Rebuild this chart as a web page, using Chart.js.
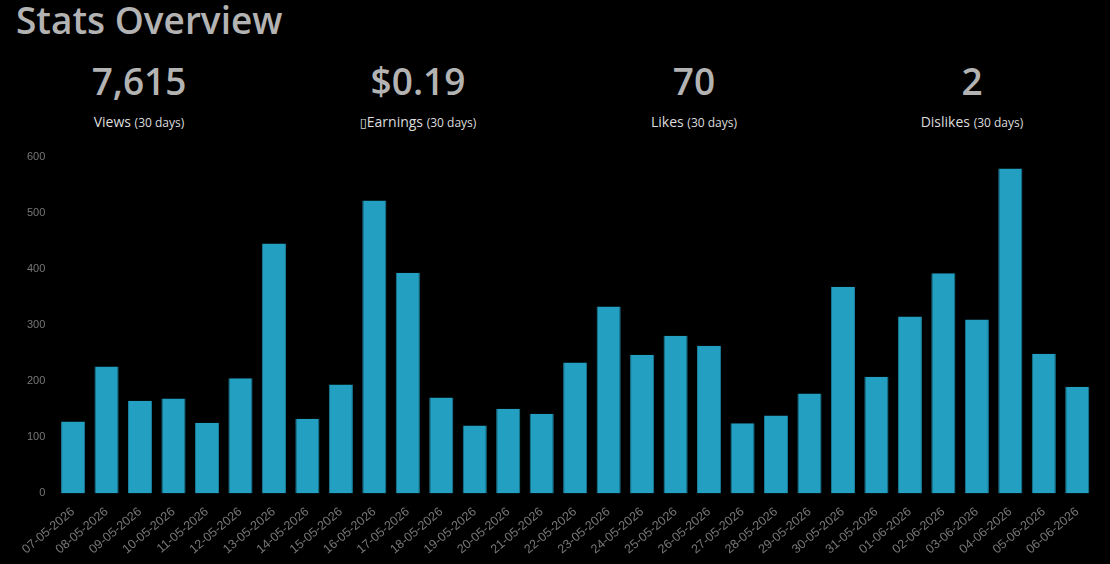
<!DOCTYPE html>
<html>
<head>
<meta charset="utf-8">
<script src="https://cdn.jsdelivr.net/npm/chart.js@4"></script>
<style>
    body { margin: 0; background: #000; width: 1110px; height: 564px; overflow: hidden; font-family: "Open Sans", sans-serif; color: #b3b3b3; }
    h1 { position: absolute; left: 16px; top: -6px; margin: 0; font-size: 37px; font-weight: 600; color: #b3b3b3; }
    .stat { position: absolute; top: 56px; width: 260px; text-align: center; }
    .stat .num { font-size: 37px; font-weight: 600; line-height: 50px; }
    .stat .lbl { font-size: 14px; color: #ddd; margin-top: 6px; }
    .stat .lbl small { font-size: 12px; }
    .tofu { font-family: "DejaVu Sans"; font-size: 13px; }
    #wrap { position: absolute; left: 0; top: 147px; width: 1110px; height: 417px; }
</style>
</head>
<body>
<h1>Stats Overview</h1>
<div class="stat" style="left:9px"><div class="num">7,615</div><div class="lbl">Views <small>(30 days)</small></div></div>
<div class="stat" style="left:288px"><div class="num">$0.19</div><div class="lbl"><span class="tofu">&#x25AF;</span>Earnings <small>(30 days)</small></div></div>
<div class="stat" style="left:564px"><div class="num">70</div><div class="lbl">Likes <small>(30 days)</small></div></div>
<div class="stat" style="left:842px"><div class="num">2</div><div class="lbl">Dislikes <small>(30 days)</small></div></div>
<div id="wrap"><canvas id="chart"></canvas></div>
<script>
// データ
const dates = [
    '07-05-2026', '08-05-2026', '09-05-2026', '10-05-2026', '11-05-2026', '12-05-2026',
    '13-05-2026', '14-05-2026', '15-05-2026', '16-05-2026', '17-05-2026', '18-05-2026',
    '19-05-2026', '20-05-2026', '21-05-2026', '22-05-2026', '23-05-2026', '24-05-2026',
    '25-05-2026', '26-05-2026', '27-05-2026', '28-05-2026', '29-05-2026', '30-05-2026',
    '31-05-2026', '01-06-2026', '02-06-2026', '03-06-2026', '04-06-2026', '05-06-2026',
    '06-06-2026'
];
const views = [
    128, 226, 165, 169, 126, 205, 445, 133, 194, 522, 393, 171, 121, 151, 142, 233,
    333, 247, 281, 263, 125, 139, 178, 368, 208, 315, 392, 310, 579, 249, 190
];
const yTicks = [0, 100, 200, 300, 400, 500, 600];

new Chart(document.getElementById('chart'), {
    type: 'bar',
    data: {
        labels: dates,
        datasets: [{
            data: views,
            backgroundColor: '#239fc1',
            borderColor: '#1b7f9c',
            borderWidth: { left: 1, right: 1 },
            categoryPercentage: 0.9,
            barPercentage: 0.8
        }]
    },
    options: {
        responsive: true,
        maintainAspectRatio: false,
        animation: false,
        layout: { padding: { left: 24, right: 16, top: 6, bottom: 4 } },
        plugins: { legend: { display: false }, tooltip: { enabled: false } },
        scales: {
            x: {
                grid: { display: false },
                border: { display: false },
                ticks: { color: '#777', font: { size: 12.5 }, maxRotation: 40, minRotation: 40, autoSkip: false }
            },
            y: {
                min: 0, max: 600,
                afterBuildTicks: axis => { axis.ticks = yTicks.map(v => ({ value: v })); },
                grid: { display: false },
                border: { display: false },
                ticks: { color: '#777', font: { size: 11 } }
            }
        }
    }
});
</script>
</body>
</html>
